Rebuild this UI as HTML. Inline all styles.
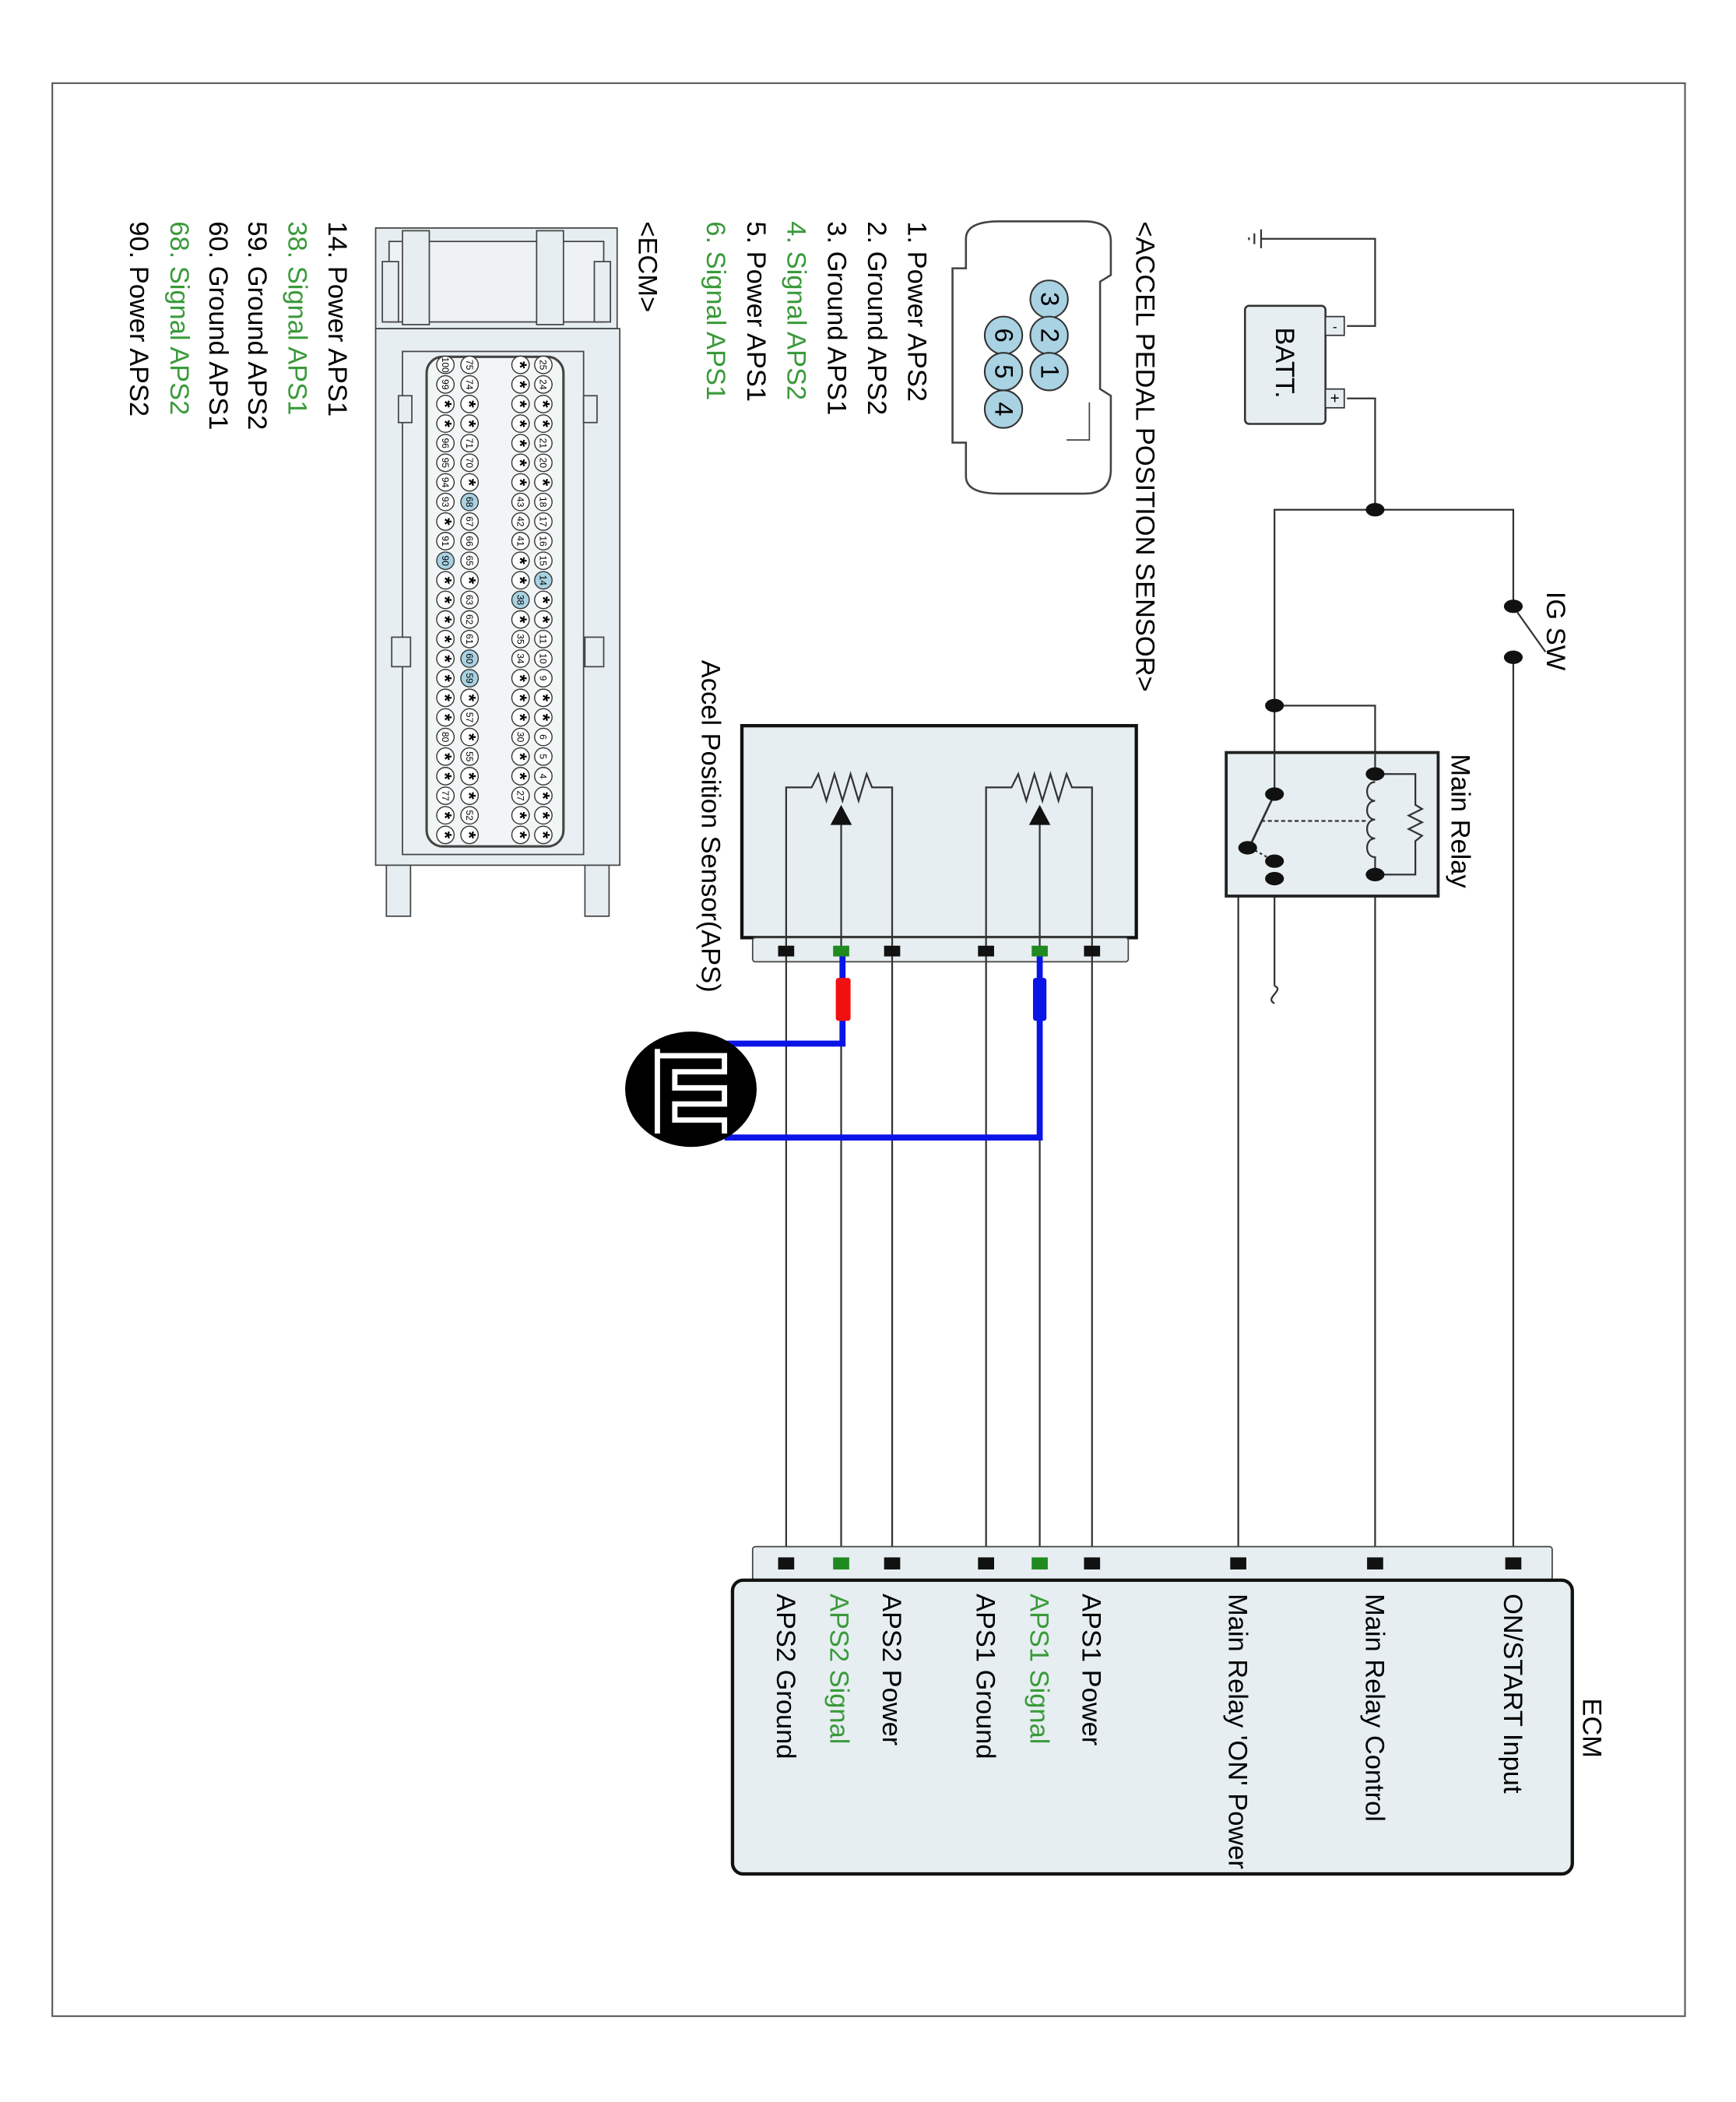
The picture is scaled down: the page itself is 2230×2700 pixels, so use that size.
<!DOCTYPE html>
<html><head><meta charset="utf-8"><style>
html,body{margin:0;padding:0;background:#fff}
svg{display:block}
text{font-family:"Liberation Sans",sans-serif}
</style></head><body>
<svg width="2230" height="2700" viewBox="0 0 1294 1567" preserveAspectRatio="none" xmlns="http://www.w3.org/2000/svg">
<defs>
<g id="pw"><circle r="6.5" fill="#fff" stroke="#333" stroke-width="0.8"/></g>
<g id="ph"><circle r="6.5" fill="#a9d2e3" stroke="#333" stroke-width="0.8"/></g>
<g id="ps"><circle r="6.5" fill="#fff" stroke="#333" stroke-width="0.8"/><text x="0" y="5" font-size="14" font-weight="bold" text-anchor="middle">*</text></g>
</defs>
<rect x="0" y="0" width="1300" height="1574" fill="#fff"/>
<rect x="39" y="62" width="1217" height="1441" fill="none" stroke="#555" stroke-width="1.2"/>

<g stroke="#333" stroke-width="1.3" fill="none">
<line x1="940" y1="171" x2="940" y2="185"/><line x1="935" y1="174" x2="935" y2="182"/><line x1="931" y1="177" x2="931" y2="179"/>
<polyline points="940,178 1025,178 1025,243 1004,243"/>
<polyline points="1004,297 1025,297 1025,380"/>
<polyline points="950,526 950,380 1128,380 1128,452"/>
<line x1="1128" y1="490" x2="1128" y2="1165"/>
<line x1="1130" y1="455" x2="1152" y2="486"/>
<polyline points="950,526 1025,526 1025,577"/>
<line x1="1025" y1="652" x2="1025" y2="1165"/>
<line x1="950" y1="526" x2="950" y2="592"/>
<polyline points="950,655 923,655 923,1165"/>
<polyline points="950,642 950,735"/>
<path d="M950,735 C958,738 942,744 950,748"/>
</g>
<rect x="928" y="228" width="60" height="88" rx="3" fill="#e6eef1" stroke="#333" stroke-width="1.5"/>
<rect x="988" y="236" width="14" height="14" fill="#e6eef1" stroke="#333"/>
<rect x="988" y="290" width="14" height="14" fill="#e6eef1" stroke="#333"/>
<text x="995" y="247" font-size="10" text-anchor="middle">-</text>
<text x="995" y="301" font-size="12" text-anchor="middle">+</text>
<text transform="translate(951,244) rotate(90)" font-size="20">BATT.</text>
<g fill="#111"><ellipse cx="1025" cy="380" rx="7" ry="5"/><ellipse cx="1128" cy="452" rx="7" ry="5"/><ellipse cx="1128" cy="490" rx="7" ry="5"/><ellipse cx="950" cy="526" rx="7" ry="5"/></g>
<text transform="translate(1153,441) rotate(90)" font-size="20">IG SW</text>

<rect x="914" y="561" width="158" height="107" fill="#e6eef1" stroke="#222" stroke-width="2.2"/>
<g stroke="#333" stroke-width="1.3" fill="none">
<line x1="950" y1="561" x2="950" y2="592"/>
<line x1="1025" y1="561" x2="1025" y2="577"/>
<path d="M1025,583 c-8,0 -8,14 0,14 c-8,0 -8,14 0,14 c-8,0 -8,14 0,14 c-8,0 -8,14 0,14 l0,13"/>
<polyline points="1028,577 1055,577 1055,600 1060,603 1050,608 1060,613 1050,618 1060,623 1055,627 1055,652 1028,652"/>
<line x1="950" y1="592" x2="932" y2="630" stroke-width="1.6"/>
<line x1="940" y1="612" x2="1020" y2="612" stroke-dasharray="3,2"/>
<line x1="932" y1="632" x2="950" y2="642" stroke-dasharray="2,2"/>
</g>
<g fill="#111"><ellipse cx="950" cy="592" rx="7" ry="5"/><ellipse cx="930" cy="632" rx="7" ry="5"/><ellipse cx="950" cy="642" rx="7" ry="5"/><ellipse cx="950" cy="655" rx="7" ry="5"/><ellipse cx="1025" cy="577" rx="7" ry="5"/><ellipse cx="1025" cy="652" rx="7" ry="5"/></g>
<text transform="translate(1082,562) rotate(90)" font-size="20">Main Relay</text>

<path d="M720,178 Q720,165 745,165 L808,165 Q828,165 828,180 L828,205 L820,210 L820,290 L828,295 L828,350 Q828,368 808,368 L745,368 Q720,368 720,355 L720,330 L710,330 L710,200 L720,200 Z" fill="#fff" stroke="#444" stroke-width="1.5"/>
<polyline points="795,328 812,328 812,300" fill="none" stroke="#444"/>
<g fill="#a9d2e3" stroke="#333" stroke-width="1.2">
<circle cx="782" cy="223" r="14"/><circle cx="782" cy="250" r="14"/><circle cx="782" cy="277" r="14"/>
<circle cx="748" cy="250" r="14"/><circle cx="748" cy="277" r="14"/><circle cx="748" cy="305" r="14"/>
</g>
<g font-size="19" text-anchor="middle">
<text transform="translate(776,223) rotate(90)">3</text><text transform="translate(776,250) rotate(90)">2</text><text transform="translate(776,277) rotate(90)">1</text>
<text transform="translate(742,250) rotate(90)">6</text><text transform="translate(742,277) rotate(90)">5</text><text transform="translate(742,305) rotate(90)">4</text>
</g>
<text transform="translate(847,165) rotate(90)" font-size="20">&lt;ACCEL PEDAL POSITION SENSOR&gt;</text>
<g font-size="20">
<text transform="translate(677,165) rotate(90)">1. Power APS2</text>
<text transform="translate(647,165) rotate(90)">2. Ground APS2</text>
<text transform="translate(617,165) rotate(90)">3. Ground APS1</text>
<text transform="translate(587,165) rotate(90)" fill="#3a9a3a">4. Signal APS2</text>
<text transform="translate(557,165) rotate(90)">5. Power APS1</text>
<text transform="translate(527,165) rotate(90)" fill="#3a9a3a">6. Signal APS1</text>
<text transform="translate(476,165) rotate(90)">&lt;ECM&gt;</text>
<text transform="translate(245,165) rotate(90)">14. Power APS1</text>
<text transform="translate(215,165) rotate(90)" fill="#3a9a3a">38. Signal APS1</text>
<text transform="translate(185,165) rotate(90)">59. Ground APS2</text>
<text transform="translate(156,165) rotate(90)">60. Ground APS1</text>
<text transform="translate(127,165) rotate(90)" fill="#3a9a3a">68. Signal APS2</text>
<text transform="translate(97,165) rotate(90)">90. Power APS2</text>
</g>

<g stroke="#444" stroke-width="1" fill="#e6eef1">
<path d="M280,170 L460,170 L460,245 L280,245 Z"/>
<rect x="290" y="180" width="160" height="60" fill="#eef2f4"/>
<rect x="300" y="172" width="20" height="70"/><rect x="400" y="172" width="20" height="70"/>
<rect x="285" y="195" width="12" height="45"/><rect x="443" y="195" width="12" height="45"/>
<rect x="280" y="245" width="182" height="400"/>
<rect x="300" y="262" width="135" height="375" fill="#e9eff2"/>
<rect x="318" y="266" width="102" height="365" rx="12" fill="#f2f5f6" stroke-width="1.8"/>
<rect x="297" y="295" width="10" height="20"/><rect x="435" y="295" width="10" height="20"/>
<rect x="292" y="475" width="14" height="22"/><rect x="436" y="475" width="14" height="22"/>
<rect x="288" y="645" width="18" height="38"/><rect x="436" y="645" width="18" height="38"/>
</g>
<g font-size="7" text-anchor="middle">
<g transform="translate(405,272) rotate(90)">
<use href="#pw" x="0"/><text x="0" y="2.5">25</text>
<use href="#pw" x="14.6"/><text x="14.6" y="2.5">24</text>
<use href="#ps" x="29.2"/><use href="#ps" x="43.8"/>
<use href="#pw" x="58.4"/><text x="58.4" y="2.5">21</text>
<use href="#pw" x="73"/><text x="73" y="2.5">20</text>
<use href="#ps" x="87.6"/>
<use href="#pw" x="102.2"/><text x="102.2" y="2.5">18</text>
<use href="#pw" x="116.8"/><text x="116.8" y="2.5">17</text>
<use href="#pw" x="131.4"/><text x="131.4" y="2.5">16</text>
<use href="#pw" x="146"/><text x="146" y="2.5">15</text>
<use href="#ph" x="160.6"/><text x="160.6" y="2.5">14</text>
<use href="#ps" x="175.2"/><use href="#ps" x="189.8"/>
<use href="#pw" x="204.4"/><text x="204.4" y="2.5">11</text>
<use href="#pw" x="219"/><text x="219" y="2.5">10</text>
<use href="#pw" x="233.6"/><text x="233.6" y="2.5">9</text>
<use href="#ps" x="248.2"/><use href="#ps" x="262.8"/>
<use href="#pw" x="277.4"/><text x="277.4" y="2.5">6</text>
<use href="#pw" x="292"/><text x="292" y="2.5">5</text>
<use href="#pw" x="306.6"/><text x="306.6" y="2.5">4</text>
<use href="#ps" x="321.2"/><use href="#ps" x="335.8"/><use href="#ps" x="350.4"/>
</g>
<g transform="translate(388,272) rotate(90)">
<use href="#ps" x="0"/><use href="#ps" x="14.6"/><use href="#ps" x="29.2"/><use href="#ps" x="43.8"/><use href="#ps" x="58.4"/><use href="#ps" x="73"/><use href="#ps" x="87.6"/>
<use href="#pw" x="102.2"/><text x="102.2" y="2.5">43</text>
<use href="#pw" x="116.8"/><text x="116.8" y="2.5">42</text>
<use href="#pw" x="131.4"/><text x="131.4" y="2.5">41</text>
<use href="#ps" x="146"/><use href="#ps" x="160.6"/>
<use href="#ph" x="175.2"/><text x="175.2" y="2.5">38</text>
<use href="#ps" x="189.8"/>
<use href="#pw" x="204.4"/><text x="204.4" y="2.5">35</text>
<use href="#pw" x="219"/><text x="219" y="2.5">34</text>
<use href="#ps" x="233.6"/><use href="#ps" x="248.2"/><use href="#ps" x="262.8"/>
<use href="#pw" x="277.4"/><text x="277.4" y="2.5">30</text>
<use href="#ps" x="292"/><use href="#ps" x="306.6"/>
<use href="#pw" x="321.2"/><text x="321.2" y="2.5">27</text>
<use href="#ps" x="335.8"/><use href="#ps" x="350.4"/>
</g>
<g transform="translate(350,272) rotate(90)">
<use href="#pw" x="0"/><text x="0" y="2.5">75</text>
<use href="#pw" x="14.6"/><text x="14.6" y="2.5">74</text>
<use href="#ps" x="29.2"/><use href="#ps" x="43.8"/>
<use href="#pw" x="58.4"/><text x="58.4" y="2.5">71</text>
<use href="#pw" x="73"/><text x="73" y="2.5">70</text>
<use href="#ps" x="87.6"/>
<use href="#ph" x="102.2"/><text x="102.2" y="2.5">68</text>
<use href="#pw" x="116.8"/><text x="116.8" y="2.5">67</text>
<use href="#pw" x="131.4"/><text x="131.4" y="2.5">66</text>
<use href="#pw" x="146"/><text x="146" y="2.5">65</text>
<use href="#ps" x="160.6"/>
<use href="#pw" x="175.2"/><text x="175.2" y="2.5">63</text>
<use href="#pw" x="189.8"/><text x="189.8" y="2.5">62</text>
<use href="#pw" x="204.4"/><text x="204.4" y="2.5">61</text>
<use href="#ph" x="219"/><text x="219" y="2.5">60</text>
<use href="#ph" x="233.6"/><text x="233.6" y="2.5">59</text>
<use href="#ps" x="248.2"/>
<use href="#pw" x="262.8"/><text x="262.8" y="2.5">57</text>
<use href="#ps" x="277.4"/>
<use href="#pw" x="292"/><text x="292" y="2.5">55</text>
<use href="#ps" x="306.6"/><use href="#ps" x="321.2"/>
<use href="#pw" x="335.8"/><text x="335.8" y="2.5">52</text>
<use href="#ps" x="350.4"/>
</g>
<g transform="translate(332,272) rotate(90)">
<use href="#pw" x="0"/><text x="0" y="2.5">100</text>
<use href="#pw" x="14.6"/><text x="14.6" y="2.5">99</text>
<use href="#ps" x="29.2"/><use href="#ps" x="43.8"/>
<use href="#pw" x="58.4"/><text x="58.4" y="2.5">96</text>
<use href="#pw" x="73"/><text x="73" y="2.5">95</text>
<use href="#pw" x="87.6"/><text x="87.6" y="2.5">94</text>
<use href="#pw" x="102.2"/><text x="102.2" y="2.5">93</text>
<use href="#ps" x="116.8"/>
<use href="#pw" x="131.4"/><text x="131.4" y="2.5">91</text>
<use href="#ph" x="146"/><text x="146" y="2.5">90</text>
<use href="#ps" x="160.6"/><use href="#ps" x="175.2"/><use href="#ps" x="189.8"/><use href="#ps" x="204.4"/><use href="#ps" x="219"/><use href="#ps" x="233.6"/><use href="#ps" x="248.2"/><use href="#ps" x="262.8"/>
<use href="#pw" x="277.4"/><text x="277.4" y="2.5">80</text>
<use href="#ps" x="292"/><use href="#ps" x="306.6"/>
<use href="#pw" x="321.2"/><text x="321.2" y="2.5">77</text>
<use href="#ps" x="335.8"/><use href="#ps" x="350.4"/>
</g>
</g>

<rect x="553" y="541" width="294" height="158" fill="#e6eef1" stroke="#111" stroke-width="2.5"/>
<rect x="561" y="699" width="280" height="18" rx="2" fill="#e6eef1" stroke="#444"/>
<g stroke="#333" stroke-width="1.3" fill="none">
<polyline points="586,709 586,587 605,587 610,577 616,597 622,577 628,597 634,577 640,597 646,577 650,587 665,587 665,709"/>
<polyline points="735,709 735,587 754,587 759,577 765,597 771,577 777,597 783,577 789,597 795,577 799,587 814,587 814,709"/>
<line x1="627" y1="709" x2="627" y2="612"/>
<line x1="775" y1="709" x2="775" y2="612"/>
</g>
<polygon points="627,600 619,615 635,615" fill="#111"/>
<polygon points="775,600 767,615 783,615" fill="#111"/>
<text transform="translate(523,492) rotate(90)" font-size="20">Accel Position Sensor(APS)</text>

<g stroke="#333" stroke-width="1.3">
<line x1="586" y1="709" x2="586" y2="1165"/><line x1="627" y1="709" x2="627" y2="1165"/><line x1="665" y1="709" x2="665" y2="1165"/>
<line x1="735" y1="709" x2="735" y2="1165"/><line x1="775" y1="709" x2="775" y2="1165"/><line x1="814" y1="709" x2="814" y2="1165"/>
</g>
<g fill="#111"><rect x="580" y="705" width="12" height="8"/><rect x="659" y="705" width="12" height="8"/><rect x="729" y="705" width="12" height="8"/><rect x="808" y="705" width="12" height="8"/></g>
<g fill="#1f8a1f"><rect x="621" y="705" width="12" height="8"/><rect x="769" y="705" width="12" height="8"/></g>
<g fill="none" stroke="#0a14e6" stroke-width="4.5">
<polyline points="628,713 628,778 540,778"/>
<polyline points="775,713 775,848 540,848"/>
</g>
<rect x="623" y="729" width="11" height="32" rx="2" fill="#f01010"/>
<rect x="770" y="729" width="10" height="32" rx="2" fill="#0a14e6"/>
<ellipse cx="515" cy="812" rx="49" ry="43" fill="#000"/>
<path d="M490,782 V845 M490,787 H540 V799 H503 V811 H540 V823 H503 V835 H540 V845" fill="none" stroke="#fff" stroke-width="4"/>

<rect x="561" y="1153" width="596" height="25" rx="2" fill="#e6eef1" stroke="#444"/>
<rect x="546" y="1178" width="626" height="219" rx="8" fill="#e6eef1" stroke="#111" stroke-width="2.5"/>
<g fill="#111">
<rect x="580" y="1161" width="12" height="9"/><rect x="659" y="1161" width="12" height="9"/><rect x="729" y="1161" width="12" height="9"/><rect x="808" y="1161" width="12" height="9"/>
<rect x="917" y="1161" width="12" height="9"/><rect x="1019" y="1161" width="12" height="9"/><rect x="1122" y="1161" width="12" height="9"/>
</g>
<g fill="#1f8a1f"><rect x="621" y="1161" width="12" height="9"/><rect x="769" y="1161" width="12" height="9"/></g>
<g font-size="20">
<text transform="translate(579,1188) rotate(90)">APS2 Ground</text>
<text transform="translate(619,1188) rotate(90)" fill="#3a9a3a">APS2 Signal</text>
<text transform="translate(658,1188) rotate(90)">APS2 Power</text>
<text transform="translate(728,1188) rotate(90)">APS1 Ground</text>
<text transform="translate(768,1188) rotate(90)" fill="#3a9a3a">APS1 Signal</text>
<text transform="translate(807,1188) rotate(90)">APS1 Power</text>
<text transform="translate(916,1188) rotate(90)">Main Relay 'ON' Power</text>
<text transform="translate(1018,1188) rotate(90)">Main Relay Control</text>
<text transform="translate(1121,1188) rotate(90)">ON/START Input</text>
<text transform="translate(1180,1266) rotate(90)">ECM</text>
</g>
</svg>
</body></html>
